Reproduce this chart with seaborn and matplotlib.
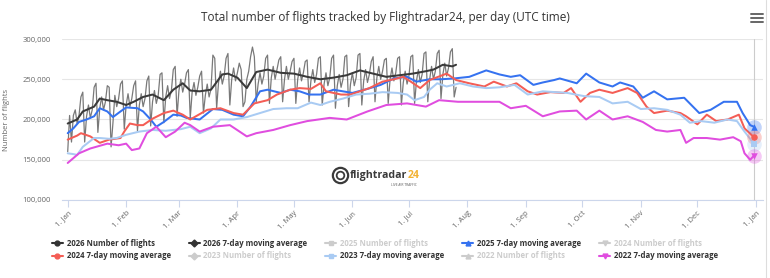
import pandas as pd
import matplotlib
matplotlib.use('Agg')
import matplotlib.pyplot as plt
import matplotlib.dates as mdates
from matplotlib.lines import Line2D
from matplotlib.ticker import FuncFormatter
import seaborn as sns

sns.set_theme(style='white')
plt.rcParams['font.family'] = ['Open Sans', 'DejaVu Sans']

start = pd.Timestamp('2026-01-01')

# 2026 number of flights per day (thousands), 1 Jan - 26 Jul
flights_2026 = [
    160, 205, 172, 205, 212, 195, 205,
    228, 234, 172, 204, 218, 202, 212,
    240, 245, 184, 214, 228, 212, 222,
    242, 240, 166, 196, 230, 216, 226,
    244, 248, 188, 218, 232, 216, 226,
    242, 248, 186, 218, 232, 216, 226,
    248, 254, 192, 222, 236, 220, 230,
    256, 258, 196, 228, 242, 226, 236,
    262, 266, 204, 236, 250, 234, 244,
    258, 262, 202, 234, 246, 230, 240,
    254, 260, 208, 230, 244, 228, 238,
    280, 276, 214, 246, 260, 244, 254,
    276, 282, 218, 250, 264, 248, 258,
    270, 262, 216, 222, 250, 260, 278,
    290, 278, 222, 244, 258, 244, 254,
    276, 280, 220, 252, 266, 250, 262,
    274, 278, 222, 250, 266, 250, 260,
    272, 276, 220, 250, 264, 248, 258,
    272, 274, 222, 248, 262, 246, 256,
    276, 278, 218, 244, 258, 242, 252,
    276, 280, 214, 242, 256, 240, 250,
    278, 280, 216, 244, 258, 242, 252,
    280, 282, 218, 248, 262, 246, 256,
    272, 278, 222, 252, 266, 250, 260,
    274, 276, 220, 250, 264, 248, 258,
    276, 278, 218, 246, 260, 244, 254,
    278, 280, 220, 248, 262, 246, 256,
    282, 284, 222, 250, 266, 250, 260,
    282, 286, 226, 256, 270, 254, 264,
    284, 288, 228, 240,
]

# 7-day moving averages: day of year and value (thousands)
ma26_day = [0, 5, 8, 14, 17, 21, 26, 31, 35, 40, 45, 51, 56, 61, 65, 70, 76, 82, 85, 90,
            95, 100, 106, 113, 120, 127, 134, 141, 148, 155, 162, 169, 176, 183, 190, 194, 199, 204, 206]
ma26_val = [195, 200, 210, 216, 226, 224, 222, 218, 222, 228, 231, 224, 237, 245, 236, 235, 237, 256, 257, 252,
            239, 259, 262, 258, 257, 253, 250, 252, 255, 261, 257, 253, 255, 257, 260, 262, 268, 266, 268]

ma25_day = [0, 3, 6, 10, 14, 17, 21, 24, 28, 31, 37, 40, 44, 47, 51, 56, 60, 63, 70, 77,
            82, 88, 93, 97, 102, 106, 113, 118, 123, 128, 134, 141, 146, 151, 159, 166, 173, 180, 185, 192,
            198, 205, 213, 222, 229, 235, 240, 247, 252, 258, 261, 270, 275, 282, 289, 293, 300, 305, 311, 318,
            327, 335, 341, 348, 355, 358, 362, 364]
ma25_val = [183, 189, 197, 200, 204, 214, 210, 203, 210, 215, 214, 210, 200, 191, 197, 206, 205, 202, 200, 213,
            212, 206, 204, 216, 235, 237, 233, 237, 235, 231, 231, 237, 235, 233, 238, 243, 251, 253, 247, 250,
            250, 251, 253, 261, 256, 253, 255, 243, 246, 249, 251, 245, 257, 246, 241, 246, 241, 227, 235, 225,
            227, 208, 212, 222, 222, 208, 193, 191]

ma24_day = [0, 5, 7, 12, 17, 22, 28, 30, 33, 37, 40, 45, 51, 56, 61, 65, 74, 81, 88, 93,
            99, 106, 111, 118, 123, 129, 134, 137, 145, 150, 155, 160, 167, 173, 178, 182, 187, 192, 201, 206,
            213, 221, 226, 233, 238, 244, 249, 256, 263, 267, 272, 277, 282, 289, 297, 302, 307, 311, 318, 325,
            328, 334, 339, 344, 350, 356, 359, 364]
ma24_val = [175, 180, 183, 179, 171, 175, 177, 185, 195, 193, 193, 201, 208, 211, 206, 200, 212, 214, 208, 206,
            220, 224, 231, 237, 239, 238, 245, 235, 231, 231, 235, 239, 247, 250, 253, 247, 239, 249, 257, 249,
            245, 241, 247, 241, 245, 235, 231, 234, 233, 239, 222, 233, 237, 233, 239, 233, 216, 208, 211, 208,
            204, 194, 206, 198, 200, 206, 189, 178]

ma23_day = [0, 3, 5, 8, 14, 17, 22, 26, 31, 38, 45, 52, 60, 65, 70, 76, 81, 88, 95, 102,
            109, 116, 122, 129, 134, 139, 146, 153, 160, 167, 175, 180, 184, 189, 192, 196, 201, 208, 215, 222,
            229, 237, 244, 252, 265, 274, 282, 289, 297, 304, 311, 318, 325, 330, 336, 343, 350, 355, 359, 363,
            364]
ma23_val = [158, 157, 156, 166, 177, 177, 176, 177, 181, 185, 187, 186, 188, 191, 183, 189, 200, 200, 203, 208,
            213, 214, 214, 221, 218, 222, 226, 231, 232, 234, 233, 231, 224, 228, 237, 245, 241, 245, 241, 239,
            240, 243, 231, 235, 233, 229, 228, 220, 222, 213, 214, 212, 206, 196, 198, 196, 200, 198, 185, 173,
            170]

ma22_day = [0, 6, 12, 21, 27, 31, 34, 38, 42, 47, 52, 57, 62, 65, 70, 77, 86, 95, 100,
            109, 118, 127, 139, 148, 159, 169, 180, 190, 197, 207, 219, 229, 235, 243, 252, 261, 270, 275, 282,
            289, 297, 305, 312, 318, 325, 328, 332, 339, 346, 353, 357, 359, 362, 364]
ma22_val = [146, 158, 164, 170, 168, 170, 162, 164, 183, 191, 178, 185, 196, 193, 185, 191, 193, 179, 183,
            187, 193, 198, 202, 200, 210, 218, 220, 216, 224, 222, 222, 222, 214, 217, 204, 210, 211, 200, 211,
            200, 204, 197, 187, 185, 187, 171, 177, 177, 175, 178, 173, 158, 150, 155]

c26_daily = '#6b6b6b'
c26_ma = '#3a3a3a'
c25 = '#3572f0'
c24 = '#f45d55'
c23 = '#a9cbf3'
c22 = '#e04ddf'
c_hidden = '#cccccc'


def to_frame(days, vals):
    return pd.DataFrame({'date': start + pd.to_timedelta(days, unit='D'),
                         'flights': [v * 1000 for v in vals]})


df_daily = to_frame(list(range(len(flights_2026))), flights_2026)
series = [
    (to_frame(ma26_day, ma26_val), c26_ma),
    (to_frame(ma25_day, ma25_val), c25),
    (to_frame(ma24_day, ma24_val), c24),
    (to_frame(ma23_day, ma23_val), c23),
    (to_frame(ma22_day, ma22_val), c22),
]

fig = plt.figure(figsize=(7.7, 2.78), dpi=100)
ax = fig.add_axes([0.0801, 0.2806, 0.9108, 0.5791])

sns.lineplot(data=df_daily, x='date', y='flights', color=c26_daily, lw=0.9, alpha=0.9, ax=ax)
for df, c in series:
    sns.lineplot(data=df, x='date', y='flights', color=c, lw=1.45, ax=ax)

# hover markers on the last point
for df, c, m in [(series[1][0], c25, '^'), (series[2][0], c24, 'o'),
                 (series[3][0], c23, 's'), (series[4][0], c22, 'v')]:
    last = df.iloc[-1]
    ax.scatter(last['date'], last['flights'], s=110, color=c, alpha=0.3, lw=0, zorder=5)
    ax.scatter(last['date'], last['flights'], s=22, color=c, marker=m, lw=0, zorder=6)
ax.axvline(start + pd.Timedelta(days=364), color='#cccccc', lw=0.8, zorder=1)

ax.set_xlim(start - pd.Timedelta(days=3.2), start + pd.Timedelta(days=368.8))
ax.set_ylim(100000, 300000)
ax.set_yticks([100000, 150000, 200000, 250000, 300000])
ax.yaxis.set_major_formatter(FuncFormatter(lambda v, p: f'{v:,.0f}'))
ax.xaxis.set_major_locator(mdates.MonthLocator())
ax.xaxis.set_major_formatter(mdates.DateFormatter('%-d. %b'))

ax.yaxis.grid(True, color='#e6e6e6', lw=0.8)
ax.xaxis.grid(False)
for s in ['top', 'right', 'left']:
    ax.spines[s].set_visible(False)
ax.spines['bottom'].set_color('#ccd6eb')
ax.spines['bottom'].set_linewidth(0.8)
ax.tick_params(axis='x', length=5, width=0.8, color='#ccd6eb', direction='out', bottom=True,
               labelsize=5.5, labelcolor='#666666', pad=2)
ax.tick_params(axis='y', length=0, labelsize=5.5, labelcolor='#666666', pad=8)
for lab in ax.get_xticklabels():
    lab.set_rotation(45)
    lab.set_ha('right')
    lab.set_rotation_mode('anchor')

ax.set_xlabel('')
ax.set_ylabel('Number of flights', fontsize=5.5, color='#666666', labelpad=9)

fig.text(0.5, 1 - 17 / 278, 'Total number of flights tracked by Flightradar24, per day (UTC time)',
         fontsize=8.5, color='#333333', ha='center', va='center')

# watermark logo
ax.plot(0.397, 0.155, 'o', ms=11, mfc='none', mec='#3a3a3a', mew=1.6, transform=ax.transAxes, zorder=0)
ax.plot(0.397, 0.155, 'o', ms=5.5, mfc='none', mec='#3a3a3a', mew=1.3, transform=ax.transAxes, zorder=0)
logo = ax.text(0.411, 0.155, 'flightradar', transform=ax.transAxes, fontsize=7.6, fontweight='bold',
               color='#3a3a3a', ha='left', va='center', zorder=0)
ax.annotate('24', xy=(1, 0.5), xycoords=logo, fontsize=7.6, fontweight='bold',
            color='#f2b233', ha='left', va='center', zorder=0)
ax.text(0.488, 0.095, 'LIVE AIR TRAFFIC', transform=ax.transAxes, fontsize=2.3,
        color='#555555', ha='center', va='center', zorder=0)

# legend, five columns, two rows
entries = [
    ('2026 Number of flights', '#333333', 'o', True),
    ('2026 7-day moving average', '#333333', 'D', True),
    ('2025 Number of flights', c_hidden, 's', False),
    ('2025 7-day moving average', c25, '^', True),
    ('2024 Number of flights', c_hidden, 'v', False),
    ('2024 7-day moving average', c24, 'o', True),
    ('2023 Number of flights', c_hidden, 'D', False),
    ('2023 7-day moving average', c23, 's', True),
    ('2022 Number of flights', c_hidden, '^', False),
    ('2022 7-day moving average', c22, 'v', True),
]
order = [0, 5, 1, 6, 2, 7, 3, 8, 4, 9]
handles = [Line2D([], [], color=entries[i][1], marker=entries[i][2], markersize=3.5, lw=1.5) for i in order]
labels = [entries[i][0] for i in order]
leg = fig.legend(handles, labels, loc='center', bbox_to_anchor=(0.5, 0.102), ncol=5, frameon=False,
                 prop={'size': 5.6, 'weight': 'bold'}, handlelength=1.4, handletextpad=0.5,
                 columnspacing=2.3, labelspacing=0.45)
for i, t in zip(order, leg.get_texts()):
    t.set_color('#333333' if entries[i][3] else c_hidden)

# menu icon
for yp in [14, 18, 22]:
    fig.add_artist(Line2D([751 / 770, 763 / 770], [1 - yp / 278, 1 - yp / 278], color='#666666', lw=1.4))
fig.add_artist(Line2D([766 / 770, 766 / 770], [0, 1], color='#dddddd', lw=0.8))

plt.savefig('out.png', dpi=100)
